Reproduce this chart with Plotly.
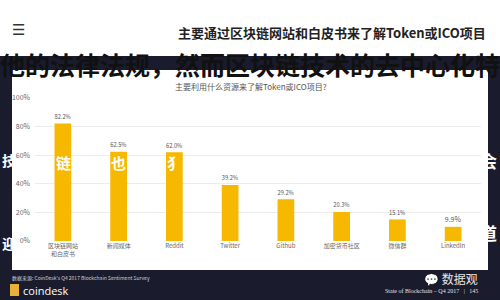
import plotly.graph_objects as go

categories = ["区块链网站<br>和白皮书", "新闻媒体", "Reddit", "Twitter", "Github",
              "加密货币社区", "微信群", "LinkedIn"]
values = [82.2, 62.5, 62.0, 39.2, 29.2, 20.3, 15.1, 9.9]
y_ticks = [0, 20, 40, 60, 80, 100]
y_tick_labels = ["0%", "20%", "40%", "60%", "80%", "100%"]

title_text = "主要通过区块链网站和白皮书来了解Token或ICO项目"
subtitle_text = "主要利用什么资源来了解Token或ICO项目?"
overlay_top = "他的法律法规，然而区块链技术的去中心化特"
source_text = "数据来源: CoinDesk's Q4 2017 Blockchain Sentiment Survey"
footer_right = "State of Blockchain – Q4 2017   |   145"

W, H = 500, 300
L, R, T, B = 35, 19, 98, 59
pw, ph = W - L - R, H - T - B

def px(x):
    return (x - L) / pw

def py(y):
    return (H - B - y) / ph

NAVY = "#1a1c2e"
CJK = "Noto Sans CJK SC"

fig = go.Figure(go.Bar(
    x=categories, y=values,
    marker=dict(color="#F7B801", line=dict(width=0)),
    texttemplate="%{y:.1f}%", textposition="outside",
    textfont=dict(size=7, color="#555", family=CJK),
    cliponaxis=False, width=0.3,
))

shapes = [
    dict(type="rect", xref="paper", yref="paper", x0=px(-5), x1=px(505),
         y0=py(56), y1=py(-5), fillcolor="white", line=dict(width=0), layer="below"),
    dict(type="rect", xref="paper", yref="paper", x0=px(12), x1=px(488),
         y0=py(270), y1=py(70), fillcolor="white", line=dict(width=0), layer="below"),
    dict(type="rect", xref="paper", yref="paper", x0=px(10), x1=px(19),
         y0=py(296), y1=py(284), fillcolor="#E8B23A", line=dict(width=0), layer="above"),
]

ann = []
def add(text, x, y, size, color, xanchor="center", family=CJK, bold=False):
    ann.append(dict(text=f"<b>{text}</b>" if bold else text, xref="paper", yref="paper",
                    x=px(x), y=py(y), xanchor=xanchor, yanchor="middle",
                    showarrow=False, font=dict(size=size, color=color, family=family)))

add("☰", 18, 30, 15, "#333", family="DejaVu Sans")
add(title_text, 488, 32, 13, "#222", xanchor="right", bold=True)
add(overlay_top, 250, 64, 25, "#111", bold=True)
add(subtitle_text, 251, 86, 8, "#555")
# white brush characters visible on the navy edges and over bars
add("技", 0, 160, 14, "white", xanchor="left", bold=True)
add("链", 63, 162, 15, "white", bold=True)
add("也", 118, 162, 15, "white", bold=True)
add("犭", 174, 162, 15, "white", bold=True)
add("会", 499, 160, 17, "white", xanchor="right", bold=True)
add("迎", 0, 243, 14, "white", xanchor="left", bold=True)
add("道", 499, 232, 17, "white", xanchor="right", bold=True)
add(source_text, 10, 278, 5, "#cfd0d8", xanchor="left")
add("coindesk", 21, 290, 11, "white", xanchor="left", family="Open Sans")
add("💬 数据观", 480, 278, 12, "#e6e6e6", xanchor="right")
add(footer_right, 480, 291, 6, "#e0e0e0", xanchor="right", family="Liberation Serif")

fig.update_layout(
    width=W, height=H,
    margin=dict(l=L, r=R, t=T, b=B),
    paper_bgcolor=NAVY, plot_bgcolor="rgba(0,0,0,0)",
    showlegend=False, bargap=0.7,
    shapes=shapes, annotations=ann,
    xaxis=dict(tickfont=dict(size=6, color="#666", family=CJK), showgrid=False,
               showline=False, ticks="", tickangle=0),
    yaxis=dict(range=[0, 100], tickvals=y_ticks, ticktext=y_tick_labels,
               tickfont=dict(size=7, color="#666", family=CJK),
               gridcolor="#ececec", gridwidth=1, zeroline=False, showline=False,
               ticks="", ticklabelstandoff=4),
)

fig.write_html("out.html")
